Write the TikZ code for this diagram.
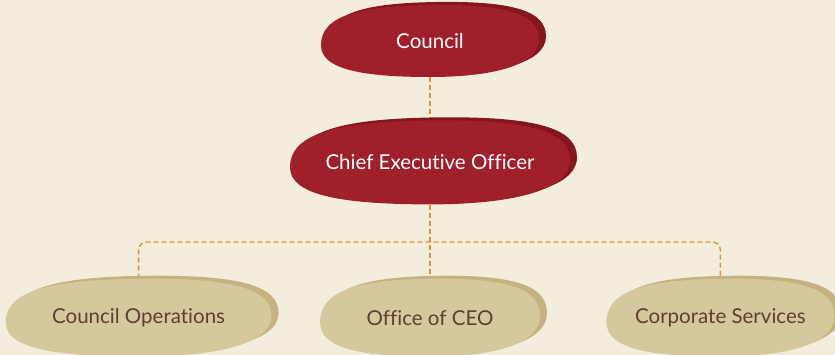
\documentclass[tikz,border=0pt]{standalone}
\usepackage{fontspec}
\setmainfont[Ligatures=NoCommon]{Lato}
\usepackage{xcolor}
\usetikzlibrary{positioning,backgrounds}

\definecolor{paper}{HTML}{F3EDDE}
\definecolor{boardred}{HTML}{9F1F2B}
\definecolor{boardreddark}{HTML}{85151E}
\definecolor{sand}{HTML}{D6C89D}
\definecolor{sanddark}{HTML}{C5B27E}
\definecolor{unittext}{HTML}{5E3E30}
\definecolor{linkorange}{HTML}{E8902C}

% pebble behind a node: node, half width, half height, fill, shadow fill
\newcommand{\pebble}[5]{%
  \fill[#5, shift={(#1.center)}, xshift=7pt, yshift=3pt, xscale=#2, yscale=#3]
    (-1,0.12) .. controls (-1,-0.68) and (-0.68,-0.97) .. (0,-1)
    .. controls (0.7,-1.03) and (1,-0.75) .. (1,-0.05)
    .. controls (1,0.7) and (0.55,1) .. (0,1)
    .. controls (-0.7,1) and (-1,0.72) .. cycle;
  \fill[#4, shift={(#1.center)}, xscale=#2, yscale=#3]
    (-1,0.12) .. controls (-1,-0.68) and (-0.68,-0.97) .. (0,-1)
    .. controls (0.7,-1.03) and (1,-0.75) .. (1,-0.05)
    .. controls (1,0.7) and (0.55,1) .. (0,1)
    .. controls (-0.7,1) and (-1,0.72) .. cycle;
}

\tikzset{
  board/.style={text=white, font=\fontsize{20.5}{24}\selectfont, inner sep=0pt},
  unit/.style={text=unittext, font=\fontsize{20.5}{24}\selectfont, inner sep=0pt},
  link/.style={linkorange, line width=1.4pt, dash pattern=on 5pt off 3pt, rounded corners=8pt},
}

\begin{document}
\begin{tikzpicture}[x=1pt, y=-1pt]
\useasboundingbox (0,0) rectangle (835,355);
\node[board, minimum width=218pt, minimum height=72pt] (council) at (430,41) {Council};
\node[board, minimum width=280pt, minimum height=84pt, below=43pt of council] (ceo) {Chief Executive Officer};
\node[unit, minimum width=220pt, minimum height=78pt, below=74pt of ceo] (office) {Office of CEO};
\node[unit, minimum width=266pt, minimum height=78pt, left=48pt of office] (ops) {Council Operations};
\node[unit, minimum width=228pt, minimum height=78pt, right=66pt of office] (corp) {Corporate Services};
\coordinate (bus) at (ceo.south |- 0,242);

\begin{scope}[on background layer]
\fill[paper] (0,0) rectangle (835,355);
\draw[link] (council.south) -- (ceo.north);
\draw[link] (ceo.south) -- (office.north);
\draw[link] (ops.north) |- (bus) -| (corp.north);
\pebble{council}{109}{36}{boardred}{boardreddark}
\pebble{ceo}{140}{42}{boardred}{boardreddark}
\pebble{ops}{133}{39}{sand}{sanddark}
\pebble{office}{110}{39}{sand}{sanddark}
\pebble{corp}{114}{39}{sand}{sanddark}
\end{scope}
\end{tikzpicture}
\end{document}
